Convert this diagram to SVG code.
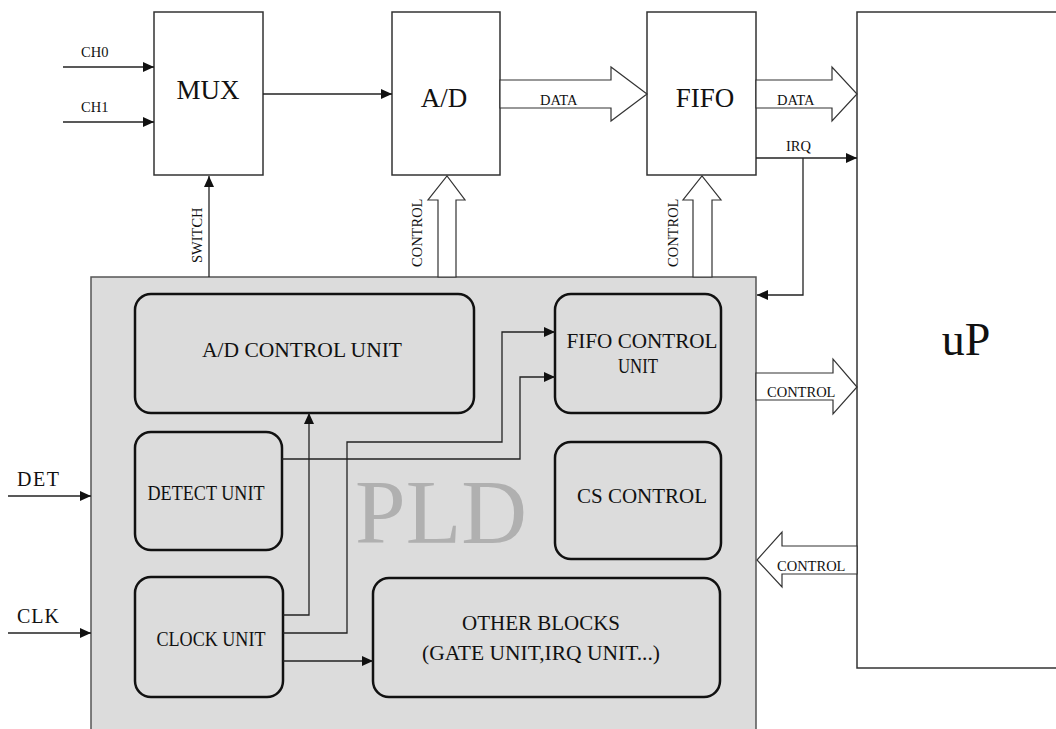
<svg xmlns="http://www.w3.org/2000/svg" width="1056" height="729" viewBox="0 0 1056 729">
<style>
text{font-family:"Liberation Serif","Times New Roman",serif;fill:#111}
.box{fill:#fff;stroke:#333;stroke-width:1.5}
.rbox{fill:#dcdcdc;stroke:#111;stroke-width:2.5}
.wide{fill:#fff;stroke:#333;stroke-width:1.2}
.ln{fill:none;stroke:#222;stroke-width:1.3}
.big{font-size:27px}
.mid{font-size:20px}
.sm{font-size:14.5px}
.lbl{font-size:20px}
</style>
<defs>
<marker id="ah" markerUnits="userSpaceOnUse" markerWidth="12" markerHeight="10" refX="11" refY="5" orient="auto">
<path d="M0,0 L11,5 L0,10 Z" fill="#111"/>
</marker>
</defs>

<g id="pld">
<rect x="91" y="277" width="665" height="470" fill="#dcdcdc" stroke="#555" stroke-width="1.5"/>
<text x="441" y="543" font-size="91" text-anchor="middle" style="fill:#b0b0b0">PLD</text>
</g>

<g id="mux">
<rect class="box" x="154" y="12" width="109" height="163"/>
<text class="big" x="208" y="99" text-anchor="middle">MUX</text>
</g>
<g id="ad">
<rect class="box" x="392" y="12" width="108" height="163"/>
<text class="big" x="444" y="107" text-anchor="middle">A/D</text>
</g>
<g id="fifo">
<rect class="box" x="647" y="12" width="109" height="163"/>
<text class="big" x="705" y="107" text-anchor="middle">FIFO</text>
</g>
<g id="up">
<rect class="box" x="857" y="12" width="220" height="656"/>
<text x="966" y="355" font-size="46" text-anchor="middle">uP</text>
</g>

<g id="ad-control-unit">
<rect class="rbox" x="135" y="294" width="339" height="119" rx="16"/>
<text class="mid" x="302" y="357" text-anchor="middle" textLength="200" lengthAdjust="spacingAndGlyphs">A/D CONTROL UNIT</text>
</g>
<g id="fifo-control-unit">
<rect class="rbox" x="555" y="294" width="166" height="119" rx="16"/>
<text class="mid" x="642" y="348" text-anchor="middle" textLength="151" lengthAdjust="spacingAndGlyphs">FIFO CONTROL</text>
<text class="mid" x="638" y="373" text-anchor="middle" textLength="40" lengthAdjust="spacingAndGlyphs">UNIT</text>
</g>
<g id="detect-unit">
<rect class="rbox" x="135" y="432" width="147" height="118" rx="16"/>
<text class="mid" x="206" y="500" text-anchor="middle" textLength="117" lengthAdjust="spacingAndGlyphs">DETECT UNIT</text>
</g>
<g id="cs-control">
<rect class="rbox" x="555" y="442" width="166" height="117" rx="16"/>
<text class="mid" x="642" y="503" text-anchor="middle" textLength="130" lengthAdjust="spacingAndGlyphs">CS CONTROL</text>
</g>
<g id="clock-unit">
<rect class="rbox" x="135" y="577" width="148" height="120" rx="16"/>
<text class="mid" x="211" y="646" text-anchor="middle" textLength="109" lengthAdjust="spacingAndGlyphs">CLOCK UNIT</text>
</g>
<g id="other-blocks">
<rect class="rbox" x="373" y="578" width="347" height="119" rx="16"/>
<text class="mid" x="541" y="630" text-anchor="middle" textLength="158" lengthAdjust="spacingAndGlyphs">OTHER BLOCKS</text>
<text class="mid" x="541" y="660" text-anchor="middle" textLength="238" lengthAdjust="spacingAndGlyphs">(GATE UNIT,IRQ UNIT...)</text>
</g>

<g id="connectors">
<line class="ln" x1="63" y1="67" x2="154" y2="67" marker-end="url(#ah)"/>
<line class="ln" x1="63" y1="122" x2="154" y2="122" marker-end="url(#ah)"/>
<line class="ln" x1="263" y1="94" x2="392" y2="94" marker-end="url(#ah)"/>
<line class="ln" x1="209" y1="277" x2="209" y2="176" marker-end="url(#ah)"/>
<polygon class="wide" points="500,80 611,80 611,67 647,94 611,121 611,108 500,108"/>
<polygon class="wide" points="756,80 832,80 832,67 857,94 832,121 832,108 756,108"/>
<polygon class="wide" points="438,277 438,200 428,200 447,176 465,200 456,200 456,277"/>
<polygon class="wide" points="693,277 693,200 683,200 702,176 721,200 712,200 712,277"/>
<polygon class="wide" points="756,373 833,373 833,359 857,387 833,414 833,400 756,400"/>
<polygon class="wide" points="857,546 782,546 782,532 757,560 782,587 782,574 857,574"/>
<line class="ln" x1="756" y1="158" x2="857" y2="158" marker-end="url(#ah)"/>
<polyline class="ln" points="803,158 803,295 757,295" marker-end="url(#ah)"/>
<line class="ln" x1="8" y1="496" x2="91" y2="496" marker-end="url(#ah)"/>
<line class="ln" x1="8" y1="633" x2="91" y2="633" marker-end="url(#ah)"/>
<polyline class="ln" points="283,615 309,615 309,413" marker-end="url(#ah)"/>
<polyline class="ln" points="283,633 347,633 347,442 502,442 502,332 555,332" marker-end="url(#ah)"/>
<polyline class="ln" points="282,459 520,459 520,377 555,377" marker-end="url(#ah)"/>
<line class="ln" x1="283" y1="661" x2="373" y2="661" marker-end="url(#ah)"/>

<text class="sm" x="81" y="57">CH0</text>
<text class="sm" x="81" y="112">CH1</text>
<text class="sm" x="540" y="105">DATA</text>
<text class="sm" x="777" y="105">DATA</text>
<text class="sm" x="786" y="151">IRQ</text>
<text class="sm" x="767" y="397">CONTROL</text>
<text class="sm" x="777" y="571">CONTROL</text>
<text class="sm" transform="translate(202,263) rotate(-90)">SWITCH</text>
<text class="sm" transform="translate(422,267) rotate(-90)">CONTROL</text>
<text class="sm" transform="translate(678,267) rotate(-90)">CONTROL</text>
<text class="lbl" x="17" y="486" textLength="42">DET</text>
<text class="lbl" x="17" y="623" textLength="42">CLK</text>
</g>
</svg>
